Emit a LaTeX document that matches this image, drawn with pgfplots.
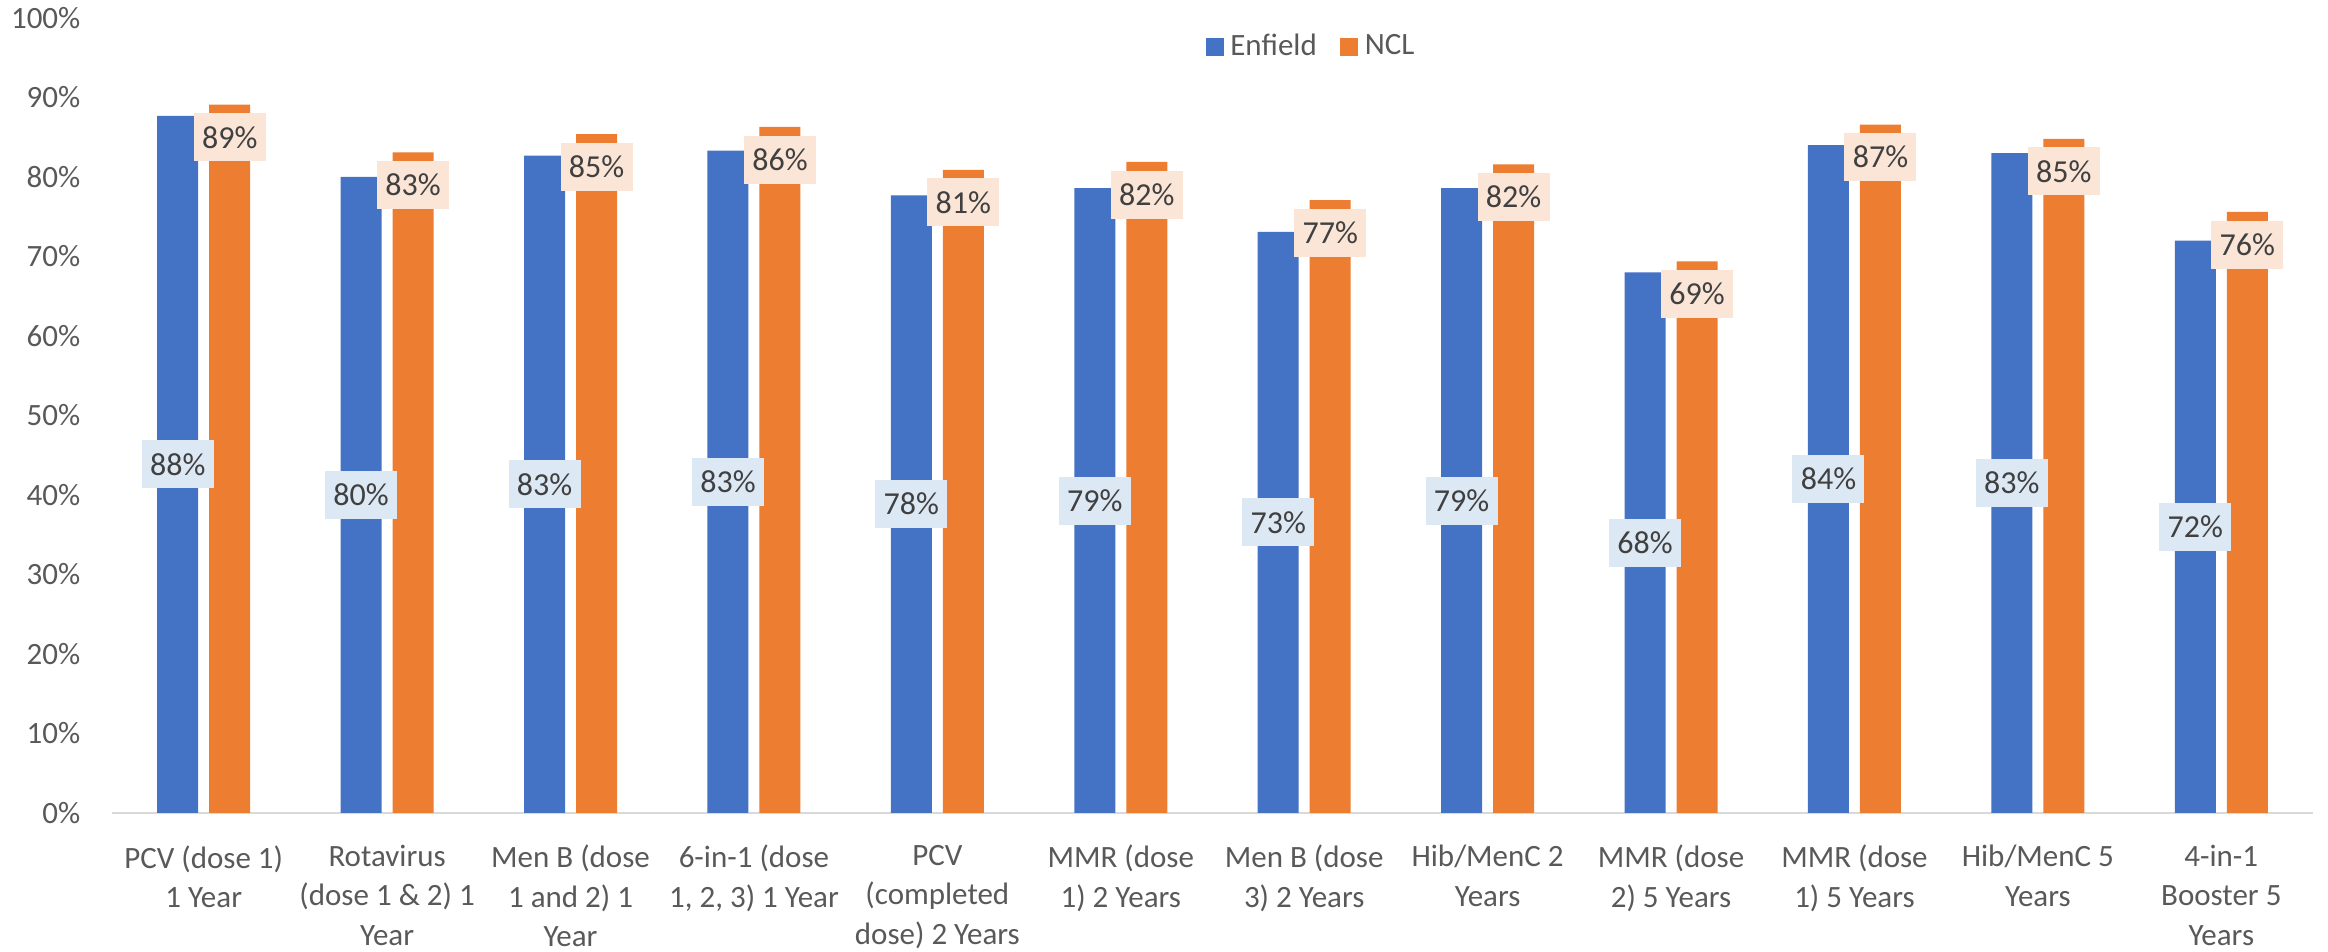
\documentclass[border=0pt]{standalone}
\usepackage{pgfplots}
\pgfplotsset{compat=1.18}
\usepackage{fontspec}
\setmainfont{Carlito}
\definecolor{enf}{HTML}{4472C4}
\definecolor{ncl}{HTML}{ED7D31}
\definecolor{enflab}{HTML}{DDE8F5}
\definecolor{ncllab}{HTML}{FBE5D6}
\definecolor{ticktext}{HTML}{595959}
\definecolor{labtext}{HTML}{404040}
\definecolor{axisgray}{HTML}{D9D9D9}
\pgfplotsset{legendsq/.style={legend image code/.code={\fill[##1] (0pt,-2.7pt) rectangle (5.4pt,2.7pt);}}}
\begin{document}
\begin{tikzpicture}
\path[use as bounding box] (0,0) rectangle (698.4pt,285.6pt);
\begin{axis}[
  at={(33.6pt,41.7pt)}, anchor=south west,
  scale only axis, width=660.3pt, height=238.5pt,
  ybar=3.3pt, bar width=12.3pt,
  enlargelimits=false, clip=false,
  xmin=-0.5, xmax=11.5, ymin=0, ymax=100,
  ytick={0,10,...,100},
  yticklabel={\pgfmathprintnumber[fixed,precision=0]{\tick}\%},
  xtick={0,...,11},
  xticklabels={{PCV (dose 1)\\1 Year},{Rotavirus\\(dose 1 \& 2) 1\\Year},{Men B (dose\\1 and 2) 1\\Year},{6-in-1 (dose\\1, 2, 3) 1 Year},{PCV\\(completed\\dose) 2 Years},{MMR (dose\\1) 2 Years},{Men B (dose\\3) 2 Years},{Hib/MenC 2\\Years},{MMR (dose\\2) 5 Years},{MMR (dose\\1) 5 Years},{Hib/MenC 5\\Years},{4-in-1\\Booster 5\\Years}},
  major tick length=0pt,
  axis lines*=left,
  x axis line style={draw=axisgray, line width=0.7pt},
  y axis line style={draw=none},
  /pgf/number format/assume math mode=true,
  tick label style={font=\fontsize{9.3}{11.8}\selectfont, text=ticktext},
  xticklabel style={align=center, anchor=north, inner sep=0pt, yshift=-9.5pt},
  yticklabel style={anchor=east, inner sep=0pt, xshift=-9.3pt},
  legend columns=2,
  legend cell align=left,
  legend style={at={(0.4966,0.9635)}, anchor=west, draw=none, fill=none, inner sep=0pt,
    font=\fontsize{9.3}{11}\selectfont, text=ticktext,
    /tikz/every even column/.append style={column sep=5pt}},
  nodes near coords={\pgfmathprintnumber[fixed,precision=0]{\pgfplotspointmeta}\%},
]
\addplot[fill=enf, draw=none, legendsq,
  visualization depends on=y \as \rawy,
  every node near coord/.append style={anchor=center, shift={(axis direction cs:0,-\rawy/2)}, fill=enflab, text=labtext, minimum width=21.6pt, minimum height=14.4pt, inner sep=0pt, font=\fontsize{9.6}{11}\selectfont}]
coordinates {(0,87.7) (1,80.0) (2,82.7) (3,83.3) (4,77.7) (5,78.6) (6,73.1) (7,78.6) (8,68.0) (9,84.0) (10,83.0) (11,72.0)};
\addlegendentry{Enfield}
\addplot[fill=ncl, draw=none, legendsq,
  every node near coord/.append style={anchor=north, yshift=-2.4pt, fill=ncllab, text=labtext, minimum width=21.6pt, minimum height=14.4pt, inner sep=0pt, font=\fontsize{9.6}{11}\selectfont}]
coordinates {(0,89.1) (1,83.1) (2,85.4) (3,86.3) (4,80.9) (5,81.9) (6,77.1) (7,81.6) (8,69.4) (9,86.6) (10,84.8) (11,75.6)};
\addlegendentry{NCL}
\end{axis}
\end{tikzpicture}
\end{document}
